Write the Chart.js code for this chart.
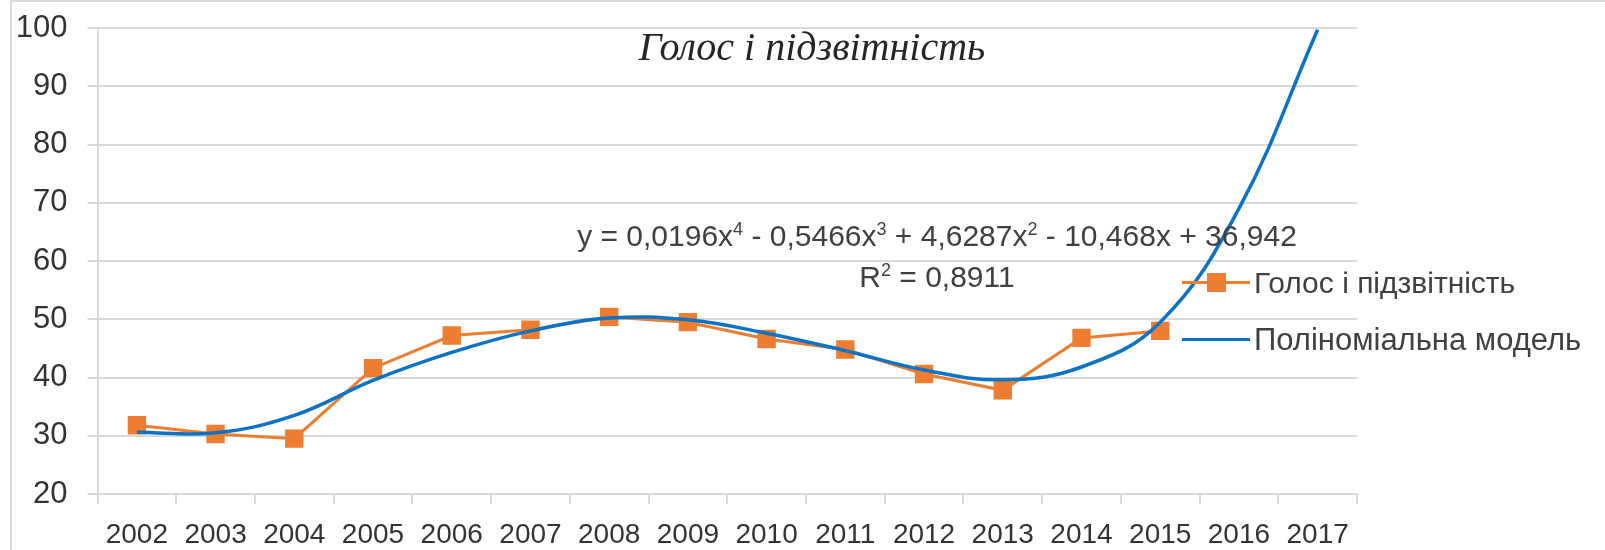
<!DOCTYPE html>
<html>
<head>
<meta charset="utf-8">
<script src="https://cdn.jsdelivr.net/npm/chart.js@4.4.1/dist/chart.umd.min.js"></script>
<style>
    html, body { margin: 0; padding: 0; background: #fff; overflow: hidden; }
    #wrap { position: relative; width: 1605px; height: 550px; }
    #frame { position: absolute; left: 10px; top: 0; width: 1700px; height: 700px; border: 2px solid #d9d9d9; }
    #chart { position: absolute; left: 0; top: 0; }
    .txt { position: absolute; white-space: nowrap; line-height: 1; color: #404040;
           font-family: "Liberation Sans", Arial, sans-serif; transform: translate(-50%, -50%); }
    .title { font-family: "Liberation Serif", "Times New Roman", serif; font-style: italic; font-size: 40px; color: #262626; }
    .eq { font-size: 30px; }
    .eq sup { font-size: 18px; vertical-align: 11px; line-height: 0; }
    .leg { position: absolute; left: 1182px; height: 30px; }
    .leg .line { position: absolute; left: 0; top: 13px; width: 68px; height: 3px; }
    .leg .sq { position: absolute; left: 25px; top: 5px; width: 19px; height: 19px; background: #ED7D31; }
    .leg .lab { position: absolute; left: 72px; top: 0; line-height: 30px; font-size: 30px; color: #404040;
                font-family: "Liberation Sans", Arial, sans-serif; white-space: nowrap; }
</style>
</head>
<body>
<div id="wrap">
    <div id="frame"></div>
    <canvas id="chart" width="1605" height="550"></canvas>
    <div class="txt title" style="left:812px; top:47px;">Голос і підзвітність</div>
    <div class="txt eq" style="left:937px; top:236px;">y = 0,0196x<sup>4</sup> - 0,5466x<sup>3</sup> + 4,6287x<sup>2</sup> - 10,468x + 36,942</div>
    <div class="txt eq" style="left:937px; top:277px;">R<sup>2</sup> = 0,8911</div>
    <div class="leg" style="top:268px;">
        <div class="line" style="background:#ED7D31"></div><div class="sq"></div>
        <div class="lab">Голос і підзвітність</div>
    </div>
    <div class="leg" style="top:325px;">
        <div class="line" style="background:#0B72C4"></div>
        <div class="lab" style="font-size:31px">Поліноміальна модель</div>
    </div>
</div>
<script>
/* values */
const years = ['2002', '2003', '2004', '2005', '2006', '2007', '2008', '2009',
               '2010', '2011', '2012', '2013', '2014', '2015', '2016', '2017'];
const voice = [31.8, 30.3, 29.5, 41.6, 47.2, 48.2, 50.4, 49.5, 46.6, 44.8, 40.6, 37.8, 46.8, 48.0];
const model = [30.6, 30.5, 33.5, 39.5, 44.3, 48.0, 50.2, 49.9, 47.6, 44.6, 41.3, 39.6, 41.8, 49.5, 69.0, 99.7];
const yMin = 20, yMax = 100, yStep = 10;

const ORANGE = '#ED7D31';
const BLUE = '#0B72C4';
const GRID = '#d9d9d9';
const FONT = '"Liberation Sans", Arial, sans-serif';

new Chart(document.getElementById('chart').getContext('2d'), {
    type: 'line',
    data: {
        labels: years,
        datasets: [
            {
                label: 'Голос і підзвітність',
                data: voice,
                borderColor: ORANGE,
                backgroundColor: ORANGE,
                borderWidth: 3,
                pointStyle: 'rect',
                pointRadius: 13,
                pointBorderWidth: 0,
                tension: 0,
                order: 1
            },
            {
                label: 'Поліноміальна модель',
                data: model,
                borderColor: BLUE,
                borderWidth: 3.5,
                pointRadius: 0,
                tension: 0.4,
                order: 0
            }
        ]
    },
    options: {
        responsive: false,
        animation: false,
        layout: { padding: { left: 0, right: 248, top: 28, bottom: 0 } },
        plugins: { legend: { display: false }, tooltip: { enabled: false } },
        scales: {
            x: {
                offset: true,
                grid: { offset: true, drawOnChartArea: false, drawTicks: true, tickLength: 10, color: GRID, lineWidth: 2 },
                border: { color: GRID, width: 2 },
                ticks: { color: '#333', font: { family: FONT, size: 28 }, padding: 14, maxRotation: 0, autoSkip: false },
                afterFit: s => { s.height = 56; s.paddingLeft = 0; s.paddingRight = 0; }
            },
            y: {
                min: yMin,
                max: yMax,
                grid: { color: GRID, lineWidth: 2, tickLength: 10 },
                border: { color: GRID, width: 2 },
                ticks: { stepSize: yStep, color: '#333', font: { family: FONT, size: 31 }, padding: 20 },
                // let the top label hang above the plot like the original
                afterFit: s => { s.width = 97.5; s.paddingTop = 0; s.paddingBottom = 0; }
            }
        }
    }
});
</script>
</body>
</html>
